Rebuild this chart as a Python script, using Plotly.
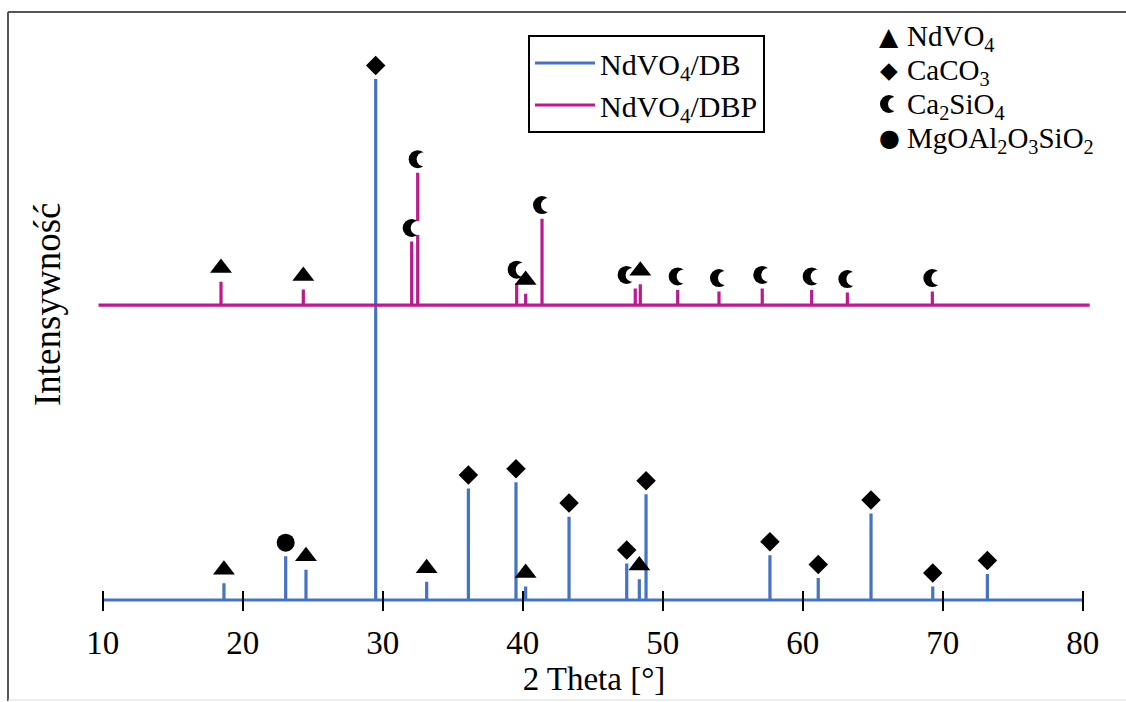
import plotly.graph_objects as go

# ---- XRD stick patterns -------------------------------------------------
# NdVO4/DB: 2θ positions [deg], relative intensities and assigned phase
db_theta = [18.66, 23.07, 24.52, 29.50, 33.14, 36.12, 39.52, 40.21, 43.31,
            47.43, 48.33, 48.81, 57.66, 61.11, 64.88, 69.29, 73.19]
db_int = [3.2, 8.4, 5.8, 100.0, 3.5, 21.4, 22.6, 2.6, 16.0,
          7.0, 4.0, 20.3, 8.6, 4.2, 16.6, 2.6, 5.0]
db_phase = ["NdVO4", "MgOAl2O3SiO2", "NdVO4", "CaCO3", "NdVO4", "CaCO3",
            "CaCO3", "NdVO4", "CaCO3", "CaCO3", "NdVO4", "CaCO3", "CaCO3",
            "CaCO3", "CaCO3", "CaCO3", "CaCO3"]

# NdVO4/DBP: 2θ positions [deg], relative intensities and assigned phase
dbp_theta = [18.45, 24.33, 32.07, 32.50, 39.57, 40.21, 41.38, 48.04, 48.40,
             51.07, 54.02, 57.11, 60.64, 63.19, 69.26]
dbp_int = [4.5, 3.0, 12.2, 25.4, 4.2, 2.2, 16.6, 3.2, 4.0,
           2.9, 2.6, 3.2, 2.9, 2.4, 2.6]
dbp_phase = ["NdVO4", "NdVO4", "Ca2SiO4", "Ca2SiO4", "Ca2SiO4", "NdVO4",
             "Ca2SiO4", "Ca2SiO4", "NdVO4", "Ca2SiO4", "Ca2SiO4", "Ca2SiO4",
             "Ca2SiO4", "Ca2SiO4", "Ca2SiO4"]

# baseline extent of each pattern [deg] and vertical offset of the DBP trace
db_span = [10.0, 80.0]
dbp_span = [9.7, 80.5]
dbp_offset = 56.6

x_ticks = [10, 20, 30, 40, 50, 60, 70, 80]

series_names = ["NdVO<sub>4</sub>/DB", "NdVO<sub>4</sub>/DBP"]
phase_order = ["NdVO4", "CaCO3", "Ca2SiO4", "MgOAl2O3SiO2"]
phase_labels = {
    "NdVO4": "NdVO<sub>4</sub>",
    "CaCO3": "CaCO<sub>3</sub>",
    "Ca2SiO4": "Ca<sub>2</sub>SiO<sub>4</sub>",
    "MgOAl2O3SiO2": "MgOAl<sub>2</sub>O<sub>3</sub>SiO<sub>2</sub>",
}
x_title = "2 Theta [°]"
y_title = "Intensywność"

# ---- styling ------------------------------------------------------------
SERIF = "Liberation Serif, Times New Roman, serif"
SYMBOL_FONT = "DejaVu Sans"
BLUE = "#4472C4"
MAGENTA = "#BE1890"

phase_marker = {
    "NdVO4": dict(symbol="triangle-up", size=19),
    "CaCO3": dict(symbol="diamond", size=15),
    "MgOAl2O3SiO2": dict(symbol="circle", size=18),
}
# crescent = black disc partly covered by a white disc shifted to the right
MOON_D, MOON_CUT_D, MOON_SHIFT_PX = 18, 14, 6.0
MARK_GAP = 2.6  # gap between stick top and phase symbol (y units)

phase_glyph = {"NdVO4": "▲", "CaCO3": "◆", "MgOAl2O3SiO2": "●"}
glyph_size = {"NdVO4": 25, "CaCO3": 23, "MgOAl2O3SiO2": 24}

W, H = 1126, 702
ML, MR, MT, MB = 97, 35, 20, 97
PW, PH = W - ML - MR, H - MT - MB
PX_PER_DEG = 14.0
PX_PER_UNIT = 5.21
x0 = 10 - (102.7 - ML) / PX_PER_DEG
x_range = [x0, x0 + PW / PX_PER_DEG]
y0 = -(H - MB - 600) / PX_PER_UNIT
y_range = [y0, y0 + PH / PX_PER_UNIT]


def fx(px):
    return (px - ML) / PW


def fy(py):
    return (H - MB - py) / PH


def stick_line(theta, inten, span, base):
    xs, ys = [span[0]], [base]
    for t, i in sorted(zip(theta, inten)):
        xs += [t, t, t]
        ys += [base, base + i, base]
    xs.append(span[1])
    ys.append(base)
    return xs, ys


fig = go.Figure()

patterns = [
    (db_theta, db_int, db_phase, db_span, 0.0, BLUE, series_names[0]),
    (dbp_theta, dbp_int, dbp_phase, dbp_span, dbp_offset, MAGENTA, series_names[1]),
]

for theta, inten, phases, span, base, color, name in patterns:
    xs, ys = stick_line(theta, inten, span, base)
    fig.add_trace(go.Scatter(
        x=xs, y=ys, mode="lines", name=name,
        line=dict(color=color, width=3.2),
        hoverinfo="skip",
    ))


def phase_points(theta, inten, phases, base, ph):
    return [(t, base + i + MARK_GAP) for t, i, p in zip(theta, inten, phases) if p == ph]


# crescents (Ca2SiO4) first, so neighbouring symbols stay on top
for theta, inten, phases, span, base, color, name in patterns:
    pts = phase_points(theta, inten, phases, base, "Ca2SiO4")
    if not pts:
        continue
    tri = [t for t, p in zip(theta, phases) if p == "NdVO4"]
    # crescents with a triangle just to their right step aside to the left
    mx = [t - 0.62 if any(0 < tt - t < 0.5 for tt in tri) else t for t, _ in pts]
    my = [y for _, y in pts]
    fig.add_trace(go.Scatter(
        x=mx, y=my, mode="markers", showlegend=False, hoverinfo="skip",
        marker=dict(symbol="circle", size=MOON_D, color="black", line=dict(width=0)),
        cliponaxis=False,
    ))
    fig.add_trace(go.Scatter(
        x=[v + MOON_SHIFT_PX / PX_PER_DEG for v in mx], y=my,
        mode="markers", showlegend=False, hoverinfo="skip",
        marker=dict(symbol="circle", size=MOON_CUT_D, color="white", line=dict(width=0)),
        cliponaxis=False,
    ))

for theta, inten, phases, span, base, color, name in patterns:
    for ph in ["NdVO4", "CaCO3", "MgOAl2O3SiO2"]:
        pts = phase_points(theta, inten, phases, base, ph)
        if not pts:
            continue
        px_, py_ = zip(*pts)
        fig.add_trace(go.Scatter(
            x=px_, y=py_, mode="markers", showlegend=False,
            marker=dict(color="black", line=dict(width=0), **phase_marker[ph]),
            hoverinfo="skip", cliponaxis=False,
        ))

# phase key (upper right)
key_rows = [36, 70, 104, 138]
KEY_X = 889
annotations = []
shapes = []
for ph, ry in zip(phase_order, key_rows):
    if ph == "Ca2SiO4":
        for d, col, dx in [(MOON_D, "black", 0), (MOON_CUT_D, "white", MOON_SHIFT_PX)]:
            shapes.append(dict(
                type="circle", xref="paper", yref="paper",
                xsizemode="pixel", ysizemode="pixel",
                xanchor=fx(KEY_X + dx), yanchor=fy(ry),
                x0=-d / 2, x1=d / 2, y0=-d / 2, y1=d / 2,
                fillcolor=col, line=dict(width=0), layer="above",
            ))
    else:
        annotations.append(dict(
            xref="paper", yref="paper", x=fx(KEY_X), y=fy(ry),
            xanchor="center", yanchor="middle", showarrow=False,
            text=phase_glyph[ph],
            font=dict(family=SYMBOL_FONT, size=glyph_size[ph], color="black"),
        ))
    annotations.append(dict(
        xref="paper", yref="paper", x=fx(905), y=fy(ry + 2),
        xanchor="left", yanchor="middle", showarrow=False,
        text=phase_labels[ph],
        font=dict(family=SERIF, size=29, color="black"),
    ))

# vertical axis title
annotations.append(dict(
    xref="paper", yref="paper", x=fx(47), y=fy(305),
    xanchor="center", yanchor="middle", showarrow=False, textangle=-90,
    text=y_title, font=dict(family=SERIF, size=37, color="black"),
))

# outer frame
shapes += [
    dict(type="line", xref="paper", yref="paper", x0=fx(8), x1=fx(8), y0=fy(12), y1=fy(701),
         line=dict(color="#555555", width=2)),
    dict(type="line", xref="paper", yref="paper", x0=fx(8), x1=fx(1130), y0=fy(12), y1=fy(12),
         line=dict(color="#555555", width=2)),
    dict(type="line", xref="paper", yref="paper", x0=fx(8), x1=fx(1130), y0=fy(700), y1=fy(700),
         line=dict(color="#dddddd", width=1)),
]

fig.update_layout(
    width=W, height=H,
    margin=dict(l=ML, r=MR, t=MT, b=MB, autoexpand=False),
    paper_bgcolor="white", plot_bgcolor="white",
    font=dict(family=SERIF, color="black"),
    showlegend=True,
    legend=dict(
        xref="container", yref="container",
        x=528 / W, y=1 - 35 / H, xanchor="left", yanchor="top",
        bordercolor="black", borderwidth=2, bgcolor="white",
        font=dict(family=SERIF, size=30, color="black"),
        itemwidth=60, tracegroupgap=0,
    ),
    xaxis=dict(
        range=x_range, tickvals=x_ticks, ticktext=[str(v) for v in x_ticks],
        ticks="outside", ticklen=20, tickwidth=2, tickcolor="black",
        anchor="free", position=fy(590),
        showline=False, showgrid=False, zeroline=False,
        tickfont=dict(family=SERIF, size=33, color="black"),
        ticklabelstandoff=3,
        title=dict(text=x_title, font=dict(family=SERIF, size=33, color="black"),
                   standoff=2),
        automargin=False,
    ),
    yaxis=dict(
        range=y_range, showticklabels=False, ticks="", showline=False,
        showgrid=False, zeroline=False, automargin=False,
    ),
    annotations=annotations,
    shapes=shapes,
)

fig.write_html("out.html")
